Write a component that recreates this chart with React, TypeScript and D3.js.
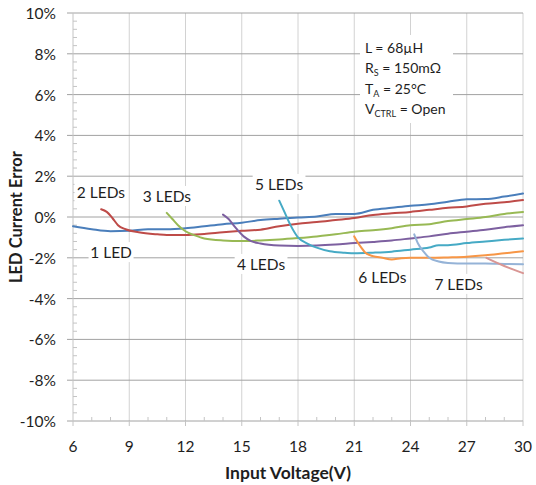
import React from "react";
import * as d3 from "d3";

const W = 536;
const H = 485;

const xTicks = [6, 9, 12, 15, 18, 21, 24, 27, 30];
const yTicks = [-10, -8, -6, -4, -2, 0, 2, 4, 6, 8, 10];

const led1: [number, number][] = [
  [6, -0.45], [7, -0.6], [8, -0.7], [9, -0.68], [10, -0.6], [11, -0.6], [12, -0.55],
  [13, -0.45], [14, -0.35], [15, -0.28], [16, -0.15], [17, -0.08], [18, -0.02],
  [19, 0.02], [20, 0.15], [21, 0.15], [22, 0.35], [23, 0.45], [24, 0.55], [25, 0.62],
  [26, 0.75], [27, 0.87], [28, 0.88], [29, 1.0], [30, 1.15],
];
const led2: [number, number][] = [
  [7.5, 0.38], [7.8, 0.25], [8.1, -0.05], [8.4, -0.4], [8.8, -0.6], [9.5, -0.75],
  [10.5, -0.85], [11, -0.88], [12, -0.88], [13, -0.83], [14, -0.75], [15, -0.68],
  [16, -0.62], [17, -0.45], [18, -0.33], [19, -0.25], [20, -0.15], [21, -0.05],
  [22, 0.1], [23, 0.18], [24, 0.25], [25, 0.35], [26, 0.45], [27, 0.52], [28, 0.65],
  [29, 0.72], [30, 0.83],
];
const led3: [number, number][] = [
  [11, 0.2], [11.3, -0.1], [11.6, -0.4], [12, -0.7], [12.5, -0.9], [13, -1.05],
  [14, -1.15], [15, -1.18], [16, -1.15], [17, -1.1], [18, -1.03], [19, -0.95],
  [20, -0.85], [21, -0.72], [22, -0.65], [23, -0.55], [24, -0.4], [25, -0.35],
  [26, -0.2], [27, -0.1], [28, 0.0], [29, 0.15], [30, 0.25],
];
const led4: [number, number][] = [
  [14, 0.12], [14.3, -0.1], [14.6, -0.45], [15.1, -0.95], [15.5, -1.18], [16, -1.3],
  [17, -1.4], [18, -1.42], [19, -1.4], [20, -1.35], [21, -1.28], [22, -1.22],
  [23, -1.15], [24, -1.05], [25, -0.95], [26, -0.82], [27, -0.72], [28, -0.62],
  [29, -0.5], [30, -0.4],
];
const led5: [number, number][] = [
  [17, 0.8], [17.3, 0.2], [17.6, -0.4], [18, -1.0], [18.5, -1.3], [19, -1.5],
  [19.7, -1.68], [20.5, -1.75], [21, -1.78], [22, -1.75], [23, -1.7], [24, -1.6],
  [25, -1.5], [25.5, -1.38], [26, -1.38], [27, -1.28], [28, -1.2], [29, -1.12],
  [30, -1.05],
];
const led6: [number, number][] = [
  [21, -0.95], [21.3, -1.4], [21.6, -1.75], [22, -1.92], [22.5, -2.0], [23, -2.08],
  [23.5, -2.02], [24, -2.0], [25, -2.0], [26, -1.98], [27, -1.95], [28, -1.88],
  [29, -1.78], [30, -1.68],
];
const led7: [number, number][] = [
  [24.2, -0.85], [24.4, -1.3], [24.7, -1.7], [25, -2.0], [25.5, -2.18], [26, -2.25],
  [27, -2.28], [28, -2.28], [29, -2.3], [30, -2.32],
];
const led8: [number, number][] = [
  [28.05, -2.0], [28.5, -2.2], [29, -2.4], [29.5, -2.58], [30, -2.75],
];

const seriesData = [led1, led2, led3, led4, led5, led6, led7, led8];
const seriesColors = [
  "#4a7ebb", "#be4b48", "#98b954", "#7d60a0", "#46aac5", "#f79646", "#95b3d7", "#d99694",
];

const labelTexts = ["2 LEDs", "3 LEDs", "5 LEDs", "1 LED", "4 LEDs", "6 LEDs", "7 LEDs"];
const labelV = [7.49, 11.01, 16.99, 8.03, 16.03, 22.5, 26.56];
const labelErr = [1.23, 1.03, 1.62, -1.72, -2.3, -2.94, -3.28];

const FONT = "Lato, 'Open Sans', sans-serif";
const TEXT = "#1e1e1e";

export default function App() {
  const x = d3.scaleLinear().domain([6, 30]).range([73, 523]);
  const y = d3.scaleLinear().domain([-10, 10]).range([421, 13]);
  const line = d3
    .line<[number, number]>()
    .x((d) => x(d[0]))
    .y((d) => y(d[1]))
    .curve(d3.curveMonotoneX);

  const yMinor = d3.range(-10, 10.001, 0.4).filter((v) => Math.abs(v / 2 - Math.round(v / 2)) > 0.01);
  const xMinor = d3.range(6, 30.001, 1).filter((v) => v % 3 !== 0);

  return (
    <svg width={W} height={H} style={{ position: "absolute", left: 0, top: 0, background: "#fff" }}>
      <rect x={0} y={0} width={W} height={H} fill="#fff" />
      {xTicks.slice(1).map((t) => (
        <line key={"vg" + t} x1={x(t)} x2={x(t)} y1={y(10)} y2={y(-10)} stroke="#d2d2d2" strokeWidth={1} />
      ))}
      {yTicks.map((t) => (
        <line key={"hg" + t} x1={x(6) - 6} x2={x(30)} y1={y(t)} y2={y(t)} stroke="#a2a2a2" strokeWidth={1} />
      ))}
      <line x1={x(6)} x2={x(6)} y1={y(10)} y2={y(-10)} stroke="#c4c4c4" strokeWidth={1} />
      {yMinor.map((v) => (
        <line key={"ym" + v} x1={x(6)} x2={x(6) + 4} y1={y(v)} y2={y(v)} stroke="#c4c4c4" strokeWidth={1} />
      ))}
      {xTicks.map((t) => (
        <line key={"xt" + t} x1={x(t)} x2={x(t)} y1={y(-10)} y2={y(-10) + 5} stroke="#c4c4c4" strokeWidth={1} />
      ))}
      {xMinor.map((t) => (
        <line key={"xm" + t} x1={x(t)} x2={x(t)} y1={y(-10)} y2={y(-10) - 4} stroke="#c4c4c4" strokeWidth={1} />
      ))}

      {seriesData.map((s, i) => (
        <path key={"s" + i} d={line(s) || ""} fill="none" stroke={seriesColors[i]} strokeWidth={2} strokeLinejoin="round" strokeLinecap="round" />
      ))}

      {labelTexts.map((t, i) => {
        const cx = x(labelV[i]);
        const cy = y(labelErr[i]);
        const w = t.length * 7.8 + 6;
        return (
          <g key={"lb" + i}>
            <rect x={cx - w / 2} y={cy - 10} width={w} height={20} fill="#fff" />
            <text x={cx} y={cy} textAnchor="middle" dominantBaseline="central" fontFamily={FONT} fontSize={15.5} fill={TEXT}>
              {t}
            </text>
          </g>
        );
      })}

      <rect x={360} y={35} width={93} height={88} fill="#fff" />
      <g fontFamily={FONT} fontSize={14} fill={TEXT}>
        <text x={365} y={53}>L = 68µH</text>
        <text x={365} y={73}>
          R<tspan fontSize={9} dy={3}>S</tspan>
          <tspan dy={-3}> = 150mΩ</tspan>
        </text>
        <text x={365} y={94}>
          T<tspan fontSize={9} dy={3}>A</tspan>
          <tspan dy={-3}> = 25°C</tspan>
        </text>
        <text x={365} y={114}>
          V<tspan fontSize={9} dy={3}>CTRL</tspan>
          <tspan dy={-3}> = Open</tspan>
        </text>
      </g>

      {yTicks.map((t) => (
        <text key={"yl" + t} x={56} y={y(t)} textAnchor="end" dominantBaseline="central" fontFamily={FONT} fontSize={15.5} fill={TEXT}>
          {t + "%"}
        </text>
      ))}
      {xTicks.map((t) => (
        <text key={"xl" + t} x={x(t)} y={446} textAnchor="middle" dominantBaseline="central" fontFamily={FONT} fontSize={15.5} fill={TEXT}>
          {t}
        </text>
      ))}
      <text x={288} y={472} textAnchor="middle" dominantBaseline="central" fontFamily={FONT} fontSize={17.5} fontWeight="bold" fill={TEXT}>
        Input Voltage(V)
      </text>
      <text
        transform={`translate(16,${y(0)}) rotate(-90)`}
        textAnchor="middle"
        dominantBaseline="central"
        fontFamily={FONT}
        fontSize={16.5}
        fontWeight="bold"
        fill={TEXT}
      >
        LED Current Error
      </text>
    </svg>
  );
}
